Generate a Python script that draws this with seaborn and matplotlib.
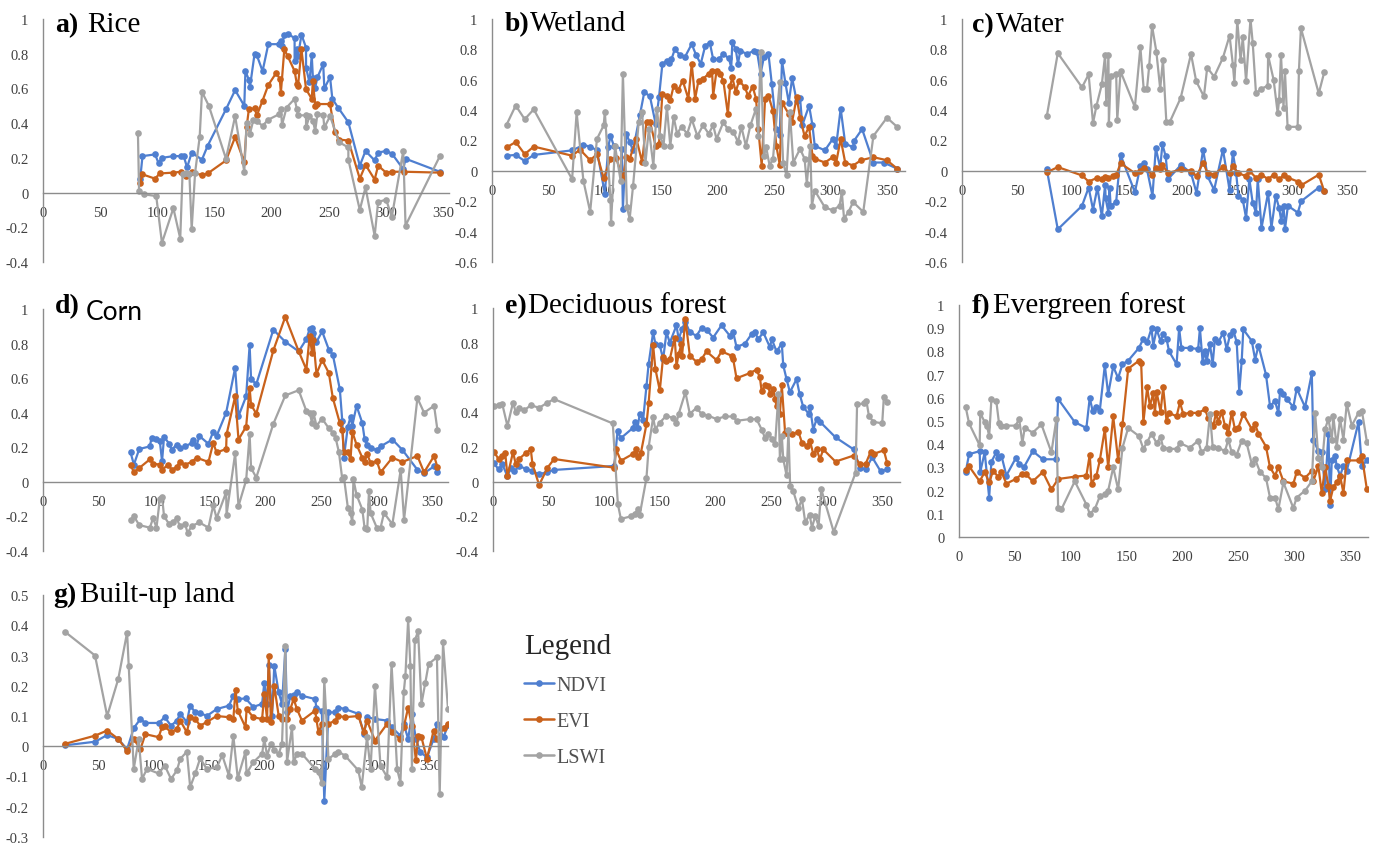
import matplotlib
matplotlib.use("Agg")
import matplotlib.pyplot as plt
from matplotlib.lines import Line2D
from matplotlib.ticker import MultipleLocator, FuncFormatter
import numpy as np
import pandas as pd
import seaborn as sns

# ---------------- data (day of year, index value) ----------------
SERIES = ["NDVI", "EVI", "LSWI"]
COLORS = ["#4F7FD0", "#C9621C", "#A3A3A3"]

RICE_NDVI = [(85,0.08),(87,0.21),(98,0.22),(101,0.17),(104,0.20),(114,0.21),(121,0.21),(123,0.21),(126,0.145),(130,0.23),(139,0.19),(144,0.27),(160,0.48),(168,0.59),(176,0.50),(177,0.70),(180,0.65),(181,0.61),(185,0.80),(187,0.79),(192,0.70),(197,0.855),(206,0.855),(208,0.875),(209,0.845),(211,0.91),(214,0.915),(220,0.89),(220,0.76),(222,0.83),(223,0.785),(226,0.91),(230,0.835),(230,0.72),(233,0.635),(235,0.79),(236,0.66),(238,0.605),(240,0.665),(245,0.74),(246,0.60),(251,0.665),(253,0.54),(258,0.49),(267,0.405),(277,0.155),(282,0.24),(290,0.185),(293,0.23),(300,0.24),(305,0.225),(315,0.135),(317,0.195),(347,0.12)]
RICE_EVI = [(85,0.055),(87,0.105),(98,0.08),(102,0.11),(114,0.115),(121,0.12),(125,0.095),(130,0.12),(139,0.10),(144,0.11),(160,0.185),(168,0.32),(176,0.175),(178,0.375),(180,0.48),(185,0.485),(187,0.445),(192,0.53),(197,0.62),(204,0.69),(207,0.655),(208,0.575),(211,0.825),(214,0.785),(220,0.70),(222,0.625),(223,0.615),(226,0.825),(230,0.595),(235,0.54),(236,0.645),(238,0.50),(240,0.51),(251,0.51),(255,0.35),(259,0.305),(267,0.30),(277,0.08),(282,0.16),(290,0.075),(293,0.155),(300,0.115),(305,0.12),(316,0.12),(347,0.115)]
RICE_LSWI = [(83,0.345),(84,0.01),(88,-0.01),(99,-0.02),(104,-0.29),(114,-0.09),(120,-0.265),(122,0.105),(125,0.115),(128,0.105),(130,-0.21),(133,0.115),(137,0.32),(139,0.58),(145,0.50),(160,0.195),(168,0.44),(176,0.12),(178,0.40),(181,0.34),(184,0.42),(187,0.41),(192,0.385),(197,0.42),(206,0.45),(208,0.48),(209,0.39),(213,0.49),(220,0.54),(222,0.48),(223,0.445),(230,0.445),(230,0.375),(233,0.44),(236,0.415),(238,0.355),(240,0.455),(245,0.445),(246,0.375),(251,0.44),(259,0.29),(267,0.26),(267,0.19),(277,-0.10),(282,0.03),(290,-0.25),(293,-0.055),(300,-0.04),(305,-0.14),(315,0.24),(317,-0.19),(347,0.21)]

WET_NDVI = [(13,0.10),(21,0.105),(29,0.065),(37,0.105),(71,0.135),(81,0.17),(87,0.16),(93,0.135),(100,-0.15),(103,0.155),(105,0.23),(108,0.165),(115,0.145),(116,-0.25),(119,0.245),(122,0.19),(125,0.135),(131,0.365),(135,0.52),(140,0.49),(145,0.31),(148,0.485),(151,0.705),(155,0.725),(157,0.71),(159,0.735),(162,0.80),(167,0.76),(171,0.75),(177,0.835),(181,0.76),(185,0.705),(189,0.825),(193,0.845),(196,0.735),(201,0.735),(205,0.77),(210,0.74),(212,0.68),(213,0.85),(216,0.80),(218,0.705),(220,0.79),(226,0.77),(232,0.79),(235,0.78),(238,0.64),(241,0.75),(245,0.77),(248,0.57),(252,0.275),(255,0.235),(257,0.725),(260,0.58),(263,0.45),(266,0.61),(270,0.46),(273,0.48),(275,0.30),(281,0.43),(284,0.30),(286,0.165),(295,0.135),(302,0.21),(305,0.165),(309,0.41),(313,0.18),(320,0.155),(321,0.20),(328,0.275),(338,0.055),(347,0.055),(359,0.015)]
WET_EVI = [(13,0.155),(21,0.19),(29,0.11),(37,0.16),(71,0.10),(78,0.14),(87,0.07),(93,0.11),(99,-0.05),(105,0.08),(110,0.085),(116,-0.05),(119,0.09),(122,0.08),(128,0.21),(133,0.06),(137,0.325),(140,0.325),(145,0.165),(148,0.18),(151,0.505),(155,0.49),(158,0.465),(161,0.56),(165,0.53),(169,0.595),(174,0.475),(177,0.705),(180,0.475),(183,0.595),(187,0.605),(192,0.64),(195,0.66),(196,0.495),(199,0.66),(202,0.64),(205,0.595),(209,0.375),(211,0.56),(213,0.615),(216,0.52),(219,0.595),(224,0.55),(227,0.495),(231,0.555),(234,0.475),(236,0.275),(239,0.035),(242,0.475),(245,0.495),(249,0.395),(252,0.165),(255,0.04),(257,0.45),(263,0.375),(266,0.325),(270,0.485),(273,0.35),(277,0.23),(281,0.29),(284,0.10),(286,0.08),(295,0.055),(302,0.09),(305,0.055),(309,0.21),(313,0.055),(320,0.035),(327,0.07),(338,0.09),(350,0.07),(359,0.015)]
WET_LSWI = [(13,0.305),(21,0.43),(29,0.34),(37,0.405),(71,-0.055),(75,0.385),(81,-0.065),(87,-0.27),(93,0.21),(99,0.30),(100,0.39),(105,-0.19),(105.5,-0.345),(109,0.165),(114,-0.065),(116,0.64),(119.6,-0.24),(122,-0.315),(125,-0.10),(130,0.32),(133,0.385),(136,0.055),(139,0.275),(143,0.035),(146,0.41),(149,0.23),(152,0.165),(155,0.42),(158,0.165),(161,0.355),(164,0.245),(168,0.29),(173,0.245),(177,0.34),(182,0.23),(187,0.30),(192,0.245),(196,0.30),(199,0.21),(205,0.32),(209,0.275),(214,0.255),(218,0.19),(221,0.29),(225,0.165),(229,0.30),(234,0.41),(236,0.23),(238,0.78),(241,0.10),(243,0.155),(246,0.035),(249,0.08),(255,0.585),(258,0.055),(261,-0.03),(264,0.385),(267,0.055),(273,0.145),(277,0.08),(279,-0.085),(282,0.165),(283.5,-0.23),(286,-0.13),(295,-0.24),(302,-0.26),(308,-0.23),(310,-0.14),(312,-0.315),(316,-0.27),(320,-0.205),(329,-0.27),(338,0.23),(350,0.35),(359,0.29)]

WATER_NDVI = [(77,0.01),(87,-0.385),(109,-0.23),(115,-0.11),(119,-0.255),(123,-0.11),(127,-0.30),(130,-0.09),(130.4,-0.18),(133,-0.275),(134,-0.11),(135,-0.23),(140,-0.205),(144,0.105),(157,-0.14),(162,0.03),(165,0.055),(168,0.01),(173,-0.165),(176,0.15),(180,0.02),(182,0.175),(185,0.095),(187,-0.055),(199,0.04),(208,-0.015),(213,-0.145),(219,0.14),(223,-0.035),(229,-0.125),(237,0.14),(243,-0.125),(246,0.12),(249,-0.015),(251,-0.165),(255,-0.19),(258,-0.31),(261,-0.055),(264,-0.21),(267,-0.275),(268.6,-0.055),(272,-0.375),(278,-0.145),(281,-0.375),(285,-0.165),(288,-0.245),(290,-0.33),(292,-0.23),(293.3,-0.385),(296,-0.23),(305,-0.275),(308,-0.20),(324,-0.11),(329,-0.135)]
WATER_EVI = [(77,-0.01),(87,0.025),(109,-0.03),(115,-0.07),(123,-0.045),(127,-0.055),(130,-0.04),(133,-0.045),(137,-0.035),(140,-0.03),(144,0.05),(157,-0.015),(162,0.0),(165,0.02),(173,-0.025),(176,0.02),(180,0.01),(182,0.04),(187,-0.015),(199,0.01),(208,0.0),(213,-0.035),(219,0.055),(223,-0.015),(229,-0.025),(237,0.025),(243,-0.015),(246,0.03),(251,-0.015),(258,-0.035),(261,0.0),(267,-0.045),(272,-0.025),(278,-0.055),(283,-0.025),(288,-0.055),(292,-0.03),(296,-0.045),(305,-0.07),(308,-0.095),(324,-0.025),(329,-0.135)]
WATER_LSWI = [(77,0.36),(87,0.775),(109,0.55),(115,0.635),(119,0.315),(122,0.425),(127,0.57),(130,0.765),(131,0.45),(133,0.765),(133.4,0.31),(135,0.625),(140,0.64),(141,0.335),(144,0.655),(157,0.42),(162,0.815),(165,0.54),(168,0.54),(170,0.69),(172.6,0.955),(176.5,0.785),(180,0.54),(182.5,0.73),(185.6,0.32),(188.6,0.32),(198.6,0.48),(208,0.77),(212.7,0.59),(219.7,0.49),(222.7,0.68),(229,0.62),(237,0.745),(243,0.89),(246,0.70),(247.4,0.58),(250,0.99),(253,0.73),(255,0.88),(258,0.59),(262,1.0),(264,0.845),(267,0.51),(271.6,0.54),(277.6,0.56),(278,0.76),(283,0.60),(286.7,0.38),(288,0.465),(289.7,0.765),(292,0.415),(293.3,0.655),(295.7,0.29),(304.8,0.29),(306,0.66),(307.8,0.94),(324,0.51),(329,0.65)]

CORN_NDVI = [(78.7,0.17),(81.7,0.10),(86.5,0.19),(96,0.205),(97.6,0.255),(102,0.25),(105,0.235),(107,0.12),(108.8,0.26),(113.5,0.22),(115.7,0.185),(120,0.215),(123,0.195),(127.7,0.205),(133.7,0.225),(135,0.245),(138,0.21),(140.6,0.265),(148.7,0.22),(153,0.29),(156,0.265),(164.6,0.40),(172.7,0.66),(175.7,0.38),(182.6,0.495),(185.7,0.79),(187,0.595),(191.7,0.565),(207,0.88),(217.8,0.81),(229.8,0.755),(236.7,0.825),(239.7,0.885),(241.8,0.89),(243,0.86),(245.8,0.81),(250.9,0.87),(256.9,0.765),(260.5,0.735),(266.8,0.535),(269,0.35),(270.4,0.14),(274,0.32),(276.4,0.375),(278,0.325),(281.8,0.44),(287,0.34),(289,0.25),(291.4,0.215),(294.4,0.195),(300,0.185),(303.4,0.205),(314,0.245),(323,0.185),(336.5,0.07),(342.5,0.05),(351.5,0.09),(354.5,0.055)]
CORN_EVI = [(78.7,0.10),(81.7,0.055),(86.5,0.08),(96,0.13),(99,0.105),(105,0.10),(107,0.07),(112.7,0.10),(115.7,0.07),(120,0.085),(123,0.115),(127.7,0.10),(133.7,0.115),(138,0.14),(148.7,0.115),(153,0.225),(156,0.17),(164.6,0.19),(165,0.275),(172.7,0.495),(175.7,0.245),(182.6,0.32),(185.7,0.545),(187,0.445),(191.7,0.395),(207,0.76),(217.8,0.955),(229.8,0.755),(236.7,0.65),(239.7,0.845),(241.8,0.745),(243,0.82),(245.8,0.625),(250.9,0.705),(256.9,0.63),(260.5,0.485),(266.8,0.34),(269,0.30),(270.4,0.17),(274,0.17),(276.4,0.13),(278,0.29),(281.8,0.215),(287,0.14),(289,0.115),(291.4,0.16),(294.4,0.11),(300,0.12),(303.4,0.055),(314,0.14),(323,0.115),(336.5,0.15),(342.5,0.055),(351.5,0.15),(354.5,0.085)]
CORN_LSWI = [(78.7,-0.22),(81.7,-0.20),(86.5,-0.25),(96,-0.265),(99,-0.21),(102,-0.265),(105,-0.10),(107,-0.085),(108.8,-0.20),(113.5,-0.245),(117,-0.235),(120,-0.21),(123,-0.255),(127.7,-0.245),(130,-0.295),(133.7,-0.255),(140.6,-0.235),(148.7,-0.265),(153,-0.135),(156,-0.21),(164.6,-0.06),(165,-0.19),(172.7,0.165),(175.7,-0.14),(182.6,0.01),(185.7,0.275),(187,0.08),(191.7,0.025),(207,0.335),(217.8,0.50),(229.8,0.53),(236.7,0.41),(239.7,0.40),(241.8,0.34),(243,0.40),(245.8,0.325),(250.9,0.365),(256.9,0.31),(260.5,0.285),(263,0.255),(266,0.17),(269,0.015),(270.4,0.03),(274,-0.15),(276.4,-0.18),(278,-0.235),(279,0.015),(281.8,-0.075),(287,-0.16),(289,-0.265),(291.4,-0.275),(293,-0.05),(294.4,-0.18),(300,-0.265),(303.4,-0.265),(306.5,-0.18),(314,-0.245),(321.5,0.07),(324.5,-0.22),(336.5,0.485),(342.5,0.40),(351.5,0.44),(354.5,0.30)]

DECID_NDVI = [(1,0.105),(5,0.07),(8.4,0.10),(13,0.03),(16,0.08),(19,0.06),(23.5,0.087),(29.5,0.075),(35.5,0.06),(41.5,0.042),(49,0.056),(55,0.067),(109,0.09),(112,0.29),(115,0.25),(126,0.31),(127.5,0.345),(130,0.31),(132,0.39),(135,0.355),(138,0.55),(140,0.68),(144,0.86),(146,0.795),(150,0.785),(153,0.705),(156,0.86),(159,0.80),(165,0.90),(167,0.82),(170,0.88),(173,0.92),(177,0.86),(183,0.84),(187.5,0.885),(192,0.875),(198,0.83),(205.5,0.90),(213,0.84),(216,0.86),(219,0.775),(226.6,0.795),(232.6,0.85),(235.6,0.86),(238.6,0.82),(243,0.86),(249,0.775),(250.7,0.82),(255,0.75),(259.7,0.795),(261,0.67),(264,0.59),(267,0.515),(273,0.59),(275.7,0.505),(279,0.43),(284,0.39),(285,0.43),(288,0.30),(291,0.36),(294,0.345),(308,0.255),(324.4,0.185),(330,0.08),(335,0.07),(341,0.14),(348.5,0.06),(354.5,0.07)]
DECID_EVI = [(1,0.17),(5,0.13),(8.4,0.15),(11,0.165),(13,0.03),(18,0.17),(20.5,0.10),(23.5,0.13),(29.5,0.165),(34,0.185),(35.5,0.10),(41.5,-0.02),(49,0.08),(55,0.13),(109,0.08),(110.7,0.185),(115,0.12),(126,0.16),(129,0.185),(130,0.14),(133,0.165),(138,0.33),(140,0.455),(144,0.785),(146,0.65),(150,0.525),(153,0.72),(156,0.695),(159,0.705),(163.4,0.83),(165,0.665),(167,0.735),(169.4,0.79),(170,0.725),(173,0.935),(177,0.725),(183,0.69),(187.5,0.705),(192,0.75),(201,0.70),(205.5,0.75),(214.6,0.725),(216,0.705),(219,0.595),(231,0.625),(237,0.645),(240,0.60),(241.6,0.52),(244.7,0.555),(247.7,0.55),(249,0.505),(252,0.535),(253.7,0.475),(255,0.435),(258,0.39),(259.7,0.555),(262.7,0.28),(264,0.28),(268.7,0.275),(274.7,0.285),(277.8,0.225),(282,0.205),(285,0.235),(288,0.16),(291,0.185),(294,0.13),(297,0.185),(308,0.115),(324.4,0.15),(330,0.10),(335,0.10),(339.5,0.17),(342.5,0.16),(351.5,0.18),(354.5,0.105)]
DECID_LSWI = [(1,0.435),(5,0.44),(8.4,0.445),(13,0.32),(18,0.455),(20.5,0.40),(23.5,0.425),(28,0.41),(34,0.44),(41.5,0.425),(49,0.455),(55,0.475),(107.7,0.335),(112.3,-0.13),(115,-0.215),(124.3,-0.20),(127.3,-0.185),(130.3,-0.16),(132,-0.19),(138,0.02),(140,0.20),(144,0.37),(146,0.30),(150,0.34),(156,0.38),(162,0.365),(165,0.34),(167,0.39),(173,0.515),(177,0.39),(183,0.425),(187.5,0.39),(193.5,0.38),(201,0.36),(208.5,0.375),(216,0.375),(219,0.35),(231,0.36),(237,0.36),(241.6,0.30),(244.7,0.25),(247.7,0.275),(250.7,0.245),(253.7,0.215),(256.7,0.505),(258,0.13),(259.7,0.265),(261,0.13),(264,0.035),(265.7,0.295),(267.2,-0.025),(270,-0.055),(274.7,-0.155),(277.8,-0.10),(280.8,-0.235),(284.7,-0.19),(286.8,-0.265),(289.8,-0.20),(292.8,-0.255),(295.2,-0.045),(306.4,-0.29),(326,0.05),(327.4,0.445),(333.4,0.45),(335.8,0.465),(338,0.38),(341.9,0.345),(350,0.335),(351.5,0.49),(354.5,0.46)]

EVER_NDVI = [(6,0.28),(9,0.357),(18.5,0.37),(19,0.28),(23,0.365),(27,0.17),(29,0.325),(33.4,0.365),(35,0.34),(38,0.35),(42.4,0.265),(50.8,0.34),(54,0.315),(58,0.30),(66,0.37),(75,0.335),(86.6,0.335),(88.7,0.595),(103.6,0.495),(114,0.47),(117,0.60),(119.5,0.545),(122.4,0.56),(126,0.545),(130.5,0.74),(133.5,0.615),(138,0.735),(142.4,0.685),(146.3,0.745),(151.4,0.76),(161,0.815),(165,0.855),(168.4,0.84),(172.3,0.90),(173.8,0.825),(176.8,0.895),(180.4,0.845),(182.7,0.875),(185.7,0.855),(188,0.80),(194.7,0.745),(197,0.90),(199,0.815),(206.6,0.815),(214,0.81),(215.6,0.90),(218,0.755),(220,0.80),(221.6,0.76),(224.6,0.83),(227,0.745),(229,0.855),(232,0.84),(236.5,0.88),(239.5,0.81),(242.5,0.87),(245.5,0.89),(248.5,0.84),(250.8,0.625),(253,0.76),(254.4,0.895),(262,0.845),(265,0.765),(268,0.825),(274.7,0.70),(278.3,0.565),(282.8,0.585),(285.8,0.535),(287.3,0.63),(290.3,0.615),(293.3,0.595),(299.2,0.56),(302.2,0.64),(309.7,0.56),(315.7,0.705),(317,0.42),(321.6,0.37),(324.6,0.365),(327.6,0.205),(330.6,0.445),(332,0.14),(333.6,0.33),(336.6,0.35),(338,0.305),(341,0.265),(344,0.305),(347,0.285),(357.5,0.495),(360.5,0.305),(365,0.33)]
EVER_EVI = [(6,0.29),(9,0.305),(18.5,0.24),(23,0.28),(27,0.235),(30.5,0.285),(35,0.26),(38,0.28),(42.4,0.23),(50.8,0.25),(56,0.27),(60,0.27),(66,0.24),(75,0.28),(82.7,0.205),(88.7,0.25),(103.6,0.26),(114,0.265),(117,0.355),(118.6,0.23),(123,0.265),(126,0.33),(130.5,0.465),(133.5,0.30),(138,0.52),(142.4,0.33),(146.3,0.485),(151.4,0.725),(161,0.76),(163,0.75),(165,0.495),(168.4,0.645),(170.8,0.565),(173.8,0.62),(175.3,0.535),(176.8,0.625),(180.4,0.54),(182.7,0.645),(185.7,0.50),(188,0.535),(194.7,0.52),(197.7,0.58),(200.7,0.53),(206.6,0.535),(214,0.535),(220,0.55),(223,0.515),(227.6,0.48),(230,0.535),(232,0.495),(235,0.54),(238,0.48),(241,0.45),(244,0.535),(246.9,0.465),(249.9,0.47),(254.4,0.53),(262,0.465),(265,0.485),(268,0.445),(274.7,0.39),(278.3,0.30),(282.8,0.265),(285.8,0.30),(290.3,0.24),(299.2,0.23),(302.2,0.28),(309.7,0.255),(315.7,0.285),(317,0.24),(321.6,0.305),(324.6,0.19),(327.6,0.30),(330.6,0.22),(332,0.155),(335,0.215),(338,0.235),(341,0.265),(344,0.19),(347,0.33),(357.5,0.33),(360.5,0.35),(365,0.205)]
EVER_LSWI = [(6,0.56),(9,0.49),(18.5,0.395),(19,0.535),(23,0.495),(25,0.48),(27,0.435),(29,0.595),(33.4,0.585),(35.8,0.49),(38,0.48),(42.4,0.48),(50.8,0.48),(53.8,0.51),(56.7,0.405),(58.8,0.47),(66,0.45),(73.8,0.485),(82.7,0.365),(87.2,0.51),(88.7,0.125),(91.7,0.12),(103.6,0.24),(114,0.14),(117,0.10),(121.5,0.12),(126,0.175),(130.5,0.185),(133.5,0.20),(138,0.30),(142.4,0.205),(146.3,0.385),(151.4,0.47),(161,0.435),(165,0.38),(168.4,0.41),(172.3,0.445),(176.8,0.405),(180.4,0.43),(182.7,0.385),(188,0.38),(194.7,0.38),(197.7,0.405),(206.6,0.385),(214,0.415),(217,0.365),(221.6,0.385),(224.6,0.53),(227,0.39),(232,0.385),(238,0.37),(241,0.42),(244,0.365),(248.5,0.355),(253,0.415),(257.4,0.405),(262,0.315),(265,0.335),(269.4,0.28),(274.7,0.255),(278.3,0.17),(282.8,0.17),(285.8,0.12),(290.3,0.235),(299.2,0.125),(302.2,0.17),(309.7,0.20),(315.7,0.24),(318.7,0.535),(321.6,0.34),(324.6,0.30),(327.6,0.465),(330.6,0.51),(333.6,0.42),(335,0.52),(338,0.39),(341,0.51),(344,0.42),(347,0.575),(351.5,0.48),(357.5,0.535),(360.5,0.545),(365,0.41)]

BUILT_NDVI = [(20,0.003),(47,0.015),(58,0.037),(68,0.024),(76,-0.01),(82,0.06),(88,0.09),(92.5,0.077),(104.5,0.077),(110,0.096),(115.7,0.068),(121,0.085),(124,0.107),(130,0.08),(133,0.134),(137.6,0.112),(142,0.11),(148,0.10),(157,0.123),(168,0.134),(172,0.167),(176,0.156),(183,0.158),(190,0.13),(198,0.14),(200,0.21),(202.5,0.14),(204,0.27),(207,0.10),(209,0.266),(213,0.178),(216,0.14),(219,0.32),(220.5,0.112),(223.5,0.167),(226.5,0.17),(229.5,0.178),(234,0.167),(246,0.156),(247,0.128),(252,0.118),(254.2,-0.18),(258,0.112),(264,0.112),(267,0.128),(273,0.123),(285,0.107),(290,0.04),(292.8,0.096),(300,0.09),(311,0.085),(315,0.063),(323,0.035),(326,0.074),(330,0.024),(333.4,0.107),(337,0.024),(341,-0.02),(347,-0.036),(353,0.024),(356,0.074),(362,0.03),(366,0.07)]
BUILT_EVI = [(20,0.008),(47,0.035),(58,0.052),(68,0.024),(76,-0.015),(82,0.024),(88,-0.01),(92.5,0.04),(104.5,0.03),(107.5,0.063),(110,0.066),(115.7,0.046),(121,0.057),(124,0.085),(130,0.046),(133,0.096),(137.6,0.09),(142,0.068),(148,0.08),(157,0.10),(168,0.096),(172,0.09),(174,0.187),(176,0.118),(183,0.063),(184,0.123),(190,0.096),(198,0.09),(200,0.173),(202.5,0.09),(204,0.297),(206,0.08),(209,0.20),(213,0.10),(216,0.09),(220.5,0.09),(223.5,0.123),(226.5,0.156),(229.5,0.123),(234,0.085),(246,0.118),(247,0.09),(249,0.046),(252,0.074),(258,0.074),(264,0.085),(267,0.10),(273,0.096),(285,0.10),(290,0.046),(292.8,0.085),(300,0.019),(311,0.074),(315,0.046),(323,0.024),(326,0.063),(330,0.128),(333.4,0.068),(337,-0.047),(339,0.035),(342,0.03),(347,-0.042),(353,0.052),(356,0.024),(362,0.06),(366,0.074)]
BUILT_LSWI = [(20,0.378),(47,0.30),(58,0.10),(68,0.222),(76,0.376),(77.5,0.264),(82,-0.075),(86.5,0.024),(89.5,-0.108),(94,-0.075),(104.5,-0.09),(110,-0.064),(115.7,-0.108),(121,-0.08),(124,-0.042),(130,-0.018),(133,-0.135),(137.6,-0.09),(142,-0.04),(148,-0.075),(157,-0.07),(162,-0.03),(168,-0.097),(172,0.035),(176,-0.106),(183,-0.018),(184,-0.09),(190,-0.053),(198,-0.025),(200,0.024),(202.5,-0.031),(206,0.008),(209,-0.014),(213,-0.025),(216,0.008),(219,0.33),(220.5,-0.053),(225,0.063),(226.5,-0.053),(229.5,-0.025),(234,-0.025),(246,-0.075),(249,-0.086),(252,-0.12),(254.2,0.22),(258,-0.042),(264,-0.025),(267,-0.018),(273,-0.031),(285,-0.08),(288,-0.135),(292.8,0.03),(296,-0.075),(300,0.20),(305,-0.064),(311,-0.102),(315,0.272),(320,-0.075),(323,-0.12),(326,0.178),(327.5,0.233),(330,0.42),(332,0.266),(333.4,-0.075),(336,0.35),(339,0.38),(342,0.14),(345.5,0.21),(348.5,0.272),(356,0.294),(358.5,-0.157),(361.5,0.343),(366,0.123)]

# ---------------- layout helpers ----------------
W, H = 1374, 845
sns.set_theme(style="white")
plt.rcParams["font.family"] = ["Liberation Serif", "DejaVu Serif"]
AXIS_COL = "#8C8C8C"
TICK_TXT = "#404040"
SERIF = ["Liberation Serif", "DejaVu Serif"]
SANS = ["Lato", "DejaVu Sans"]

fig = plt.figure(figsize=(W / 100, H / 100), dpi=100)


def box(l, t, r, b):
    return [l / W, 1 - b / H, (r - l) / W, (b - t) / H]


def fmt(v, _):
    v = round(v, 2)
    if abs(v) < 1e-9:
        v = 0.0
    return f"{v:g}"


PANELS = [
    dict(lbl="a)", name="Rice", bb=(43, 20, 449, 263), xmax=355, ylim=(-0.4, 1), step=0.2,
         data=(RICE_NDVI, RICE_EVI, RICE_LSWI), tpos=(55, 32), gap=9),
    dict(lbl="b)", name="Wetland", bb=(492, 20, 905, 263), xmax=366, ylim=(-0.6, 1), step=0.2,
         data=(WET_NDVI, WET_EVI, WET_LSWI), tpos=(505, 31), gap=0),
    dict(lbl="c)", name="Water", bb=(962, 20, 1365, 263), xmax=366, ylim=(-0.6, 1), step=0.2,
         data=(WATER_NDVI, WATER_EVI, WATER_LSWI), tpos=(972, 32), gap=2),
    dict(lbl="d)", name="Corn", bb=(43, 310, 448, 552), xmax=364, ylim=(-0.4, 1), step=0.2,
         data=(CORN_NDVI, CORN_EVI, CORN_LSWI), tpos=(55, 313), gap=6, sans=True),
    dict(lbl="e)", name="Deciduous forest", bb=(493, 309, 900, 552), xmax=366, ylim=(-0.4, 1), step=0.2,
         data=(DECID_NDVI, DECID_EVI, DECID_LSWI), tpos=(505, 313), gap=1),
    dict(lbl="f)", name="Evergreen forest", bb=(959, 306, 1368, 538), xmax=366, ylim=(0, 1), step=0.1,
         data=(EVER_NDVI, EVER_EVI, EVER_LSWI), tpos=(972, 313), gap=2),
    dict(lbl="g)", name="Built-up land", bb=(43, 596, 448, 838), xmax=366, ylim=(-0.3, 0.5), step=0.1,
         data=(BUILT_NDVI, BUILT_EVI, BUILT_LSWI), tpos=(53, 602), gap=4),
]

for p in PANELS:
    ax = fig.add_axes(box(*p["bb"]))
    frames = []
    for s, pts in zip(SERIES, p["data"]):
        xs, ys = zip(*pts)
        frames.append(pd.DataFrame({"doy": xs, "value": ys, "index": s}))
    df = pd.concat(frames, ignore_index=True)
    sns.lineplot(data=df, x="doy", y="value", hue="index", hue_order=SERIES,
                 palette=COLORS, marker="o", markersize=4.8, markeredgewidth=0,
                 linewidth=1.6, sort=False, estimator=None, legend=False, ax=ax)
    ax.set_xlim(0, p["xmax"])
    ax.set_ylim(*p["ylim"])
    ax.set_xlabel("")
    ax.set_ylabel("")
    ax.xaxis.set_major_locator(MultipleLocator(50))
    ax.yaxis.set_major_locator(MultipleLocator(p["step"]))
    ax.xaxis.set_major_formatter(FuncFormatter(fmt))
    ax.yaxis.set_major_formatter(FuncFormatter(fmt))
    for side in ("top", "right"):
        ax.spines[side].set_visible(False)
    for side in ("left", "bottom"):
        ax.spines[side].set_color(AXIS_COL)
        ax.spines[side].set_linewidth(1.0)
    ax.spines["bottom"].set_position(("data", 0))
    ax.tick_params(axis="both", which="major", labelsize=10.5, labelcolor=TICK_TXT,
                   color=AXIS_COL, direction="out", length=3.5, width=1.0)
    ax.tick_params(axis="x", pad=6)
    ax.tick_params(axis="y", pad=7)
    ax.set_axisbelow(True)
    ax.patch.set_alpha(0)
    ax.grid(False)

    tx, ty = p["tpos"]
    t1 = fig.text(tx / W, 1 - ty / H, p["lbl"], fontsize=20, fontweight="bold",
                  family=SERIF, color="black", ha="left", va="baseline")
    sans = p.get("sans", False)
    fig.axes[-1].annotate(p["name"], xy=(1, 0), xycoords=t1,
                          xytext=(p["gap"] * 0.72, -4 if sans else 0),
                          textcoords="offset points", fontsize=19 if sans else 21,
                          family=SANS if sans else SERIF, color="black",
                          ha="left", va="bottom", annotation_clip=False)

# legend
handles = [Line2D([0], [0], color=c, marker="o", markersize=4.8, markeredgewidth=0, linewidth=1.8)
           for c in COLORS]
leg = fig.legend(handles, SERIES, loc="upper left", bbox_to_anchor=(510 / W, 1 - 620 / H),
                 frameon=False, title="Legend", title_fontsize=21, fontsize=14.5,
                 handlelength=1.5, handletextpad=0.1, labelspacing=0.84, alignment="left",
                 borderpad=0.2)
for t in leg.get_texts():
    t.set_color("#505050")

fig.savefig("out.png", dpi=100)
